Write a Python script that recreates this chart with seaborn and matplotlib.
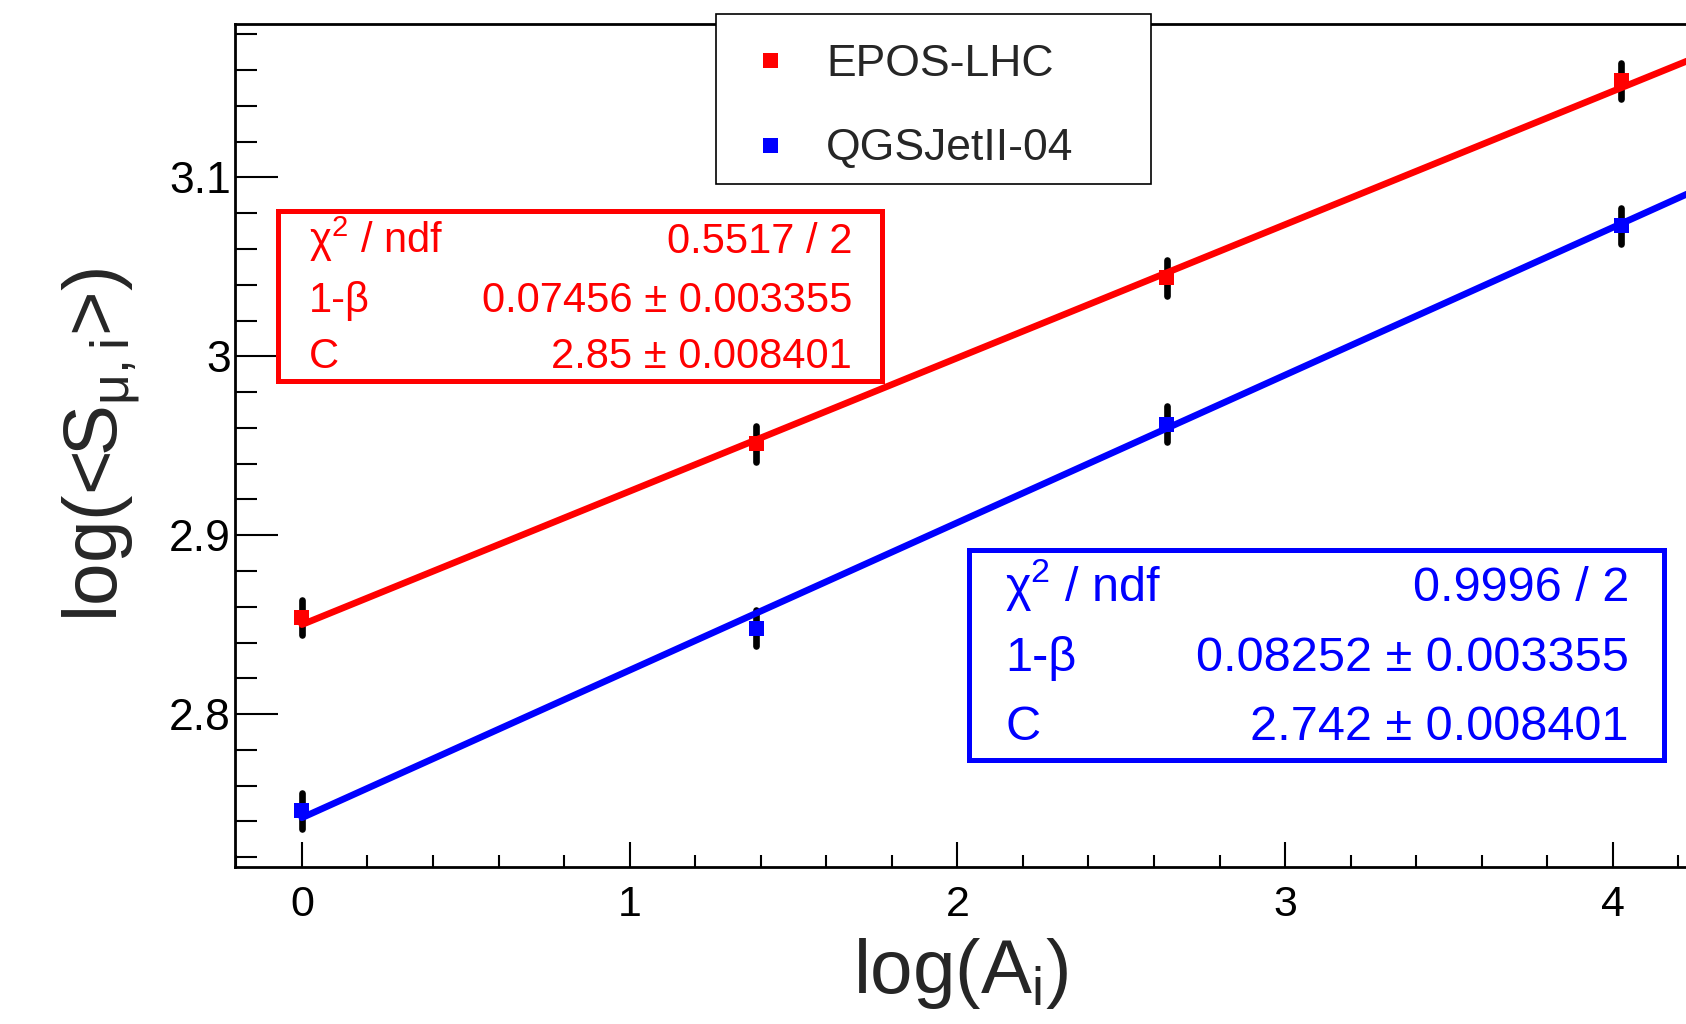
import numpy as np
import pandas as pd
import seaborn as sns
import matplotlib.pyplot as plt
from matplotlib.patches import Rectangle
from matplotlib.lines import Line2D
from matplotlib.ticker import MultipleLocator, FuncFormatter

# data: ln(A) of p, He, N, Fe and log of mean muon signal
log_a = [0.0, 1.386, 2.639, 4.025]
epos_y = [2.854, 2.951, 3.044, 3.154]
qgs_y = [2.746, 2.848, 2.962, 3.073]
y_err = [0.01, 0.01, 0.01, 0.01]
models = ["EPOS-LHC", "QGSJetII-04"]
colors = {"EPOS-LHC": "red", "QGSJetII-04": "blue"}

# fit results shown in the stat boxes
fit_c = [2.85, 2.742]
fit_slope = [0.07456, 0.08252]
fit_range = [0.0, 4.4]
stat_rows = {
    "EPOS-LHC": [("χ$^{\\mathregular{2}}$ / ndf", "0.5517 / 2"),
                 ("1-β", "0.07456 ± 0.003355"),
                 ("C", "2.85 ± 0.008401")],
    "QGSJetII-04": [("χ$^{\\mathregular{2}}$ / ndf", "0.9996 / 2"),
                    ("1-β", "0.08252 ± 0.003355"),
                    ("C", "2.742 ± 0.008401")],
}

df = pd.DataFrame({"logA": log_a * 2, "logS": epos_y + qgs_y,
                   "err": y_err * 2, "model": [models[0]] * 4 + [models[1]] * 4})
fit_df = pd.DataFrame({
    "logA": fit_range * 2,
    "logS": [fit_c[i] + fit_slope[i] * x for i in range(2) for x in fit_range],
    "model": [m for m in models for _ in fit_range],
})

sns.set_theme(style="ticks")
plt.rcParams["font.family"] = ["Liberation Sans", "DejaVu Sans"]
plt.rcParams["mathtext.fontset"] = "custom"
plt.rcParams["mathtext.rm"] = "Liberation Sans"
plt.rcParams["mathtext.it"] = "Liberation Sans:italic"

W, H = 1686, 1024
fig = plt.figure(figsize=(W / 100, H / 100), dpi=100)
fig.patch.set_facecolor("white")
L, R, T, B = 235, 1686, 24, 867
ax = fig.add_axes([L / W, 1 - B / H, (R - L) / W, (B - T) / H])
ax.set_facecolor("white")

# error bars
for m in models:
    sub = df[df.model == m]
    eb = ax.errorbar(sub.logA, sub.logS, yerr=sub.err, fmt="none", ecolor="black",
                     elinewidth=4.8, capsize=0, zorder=2)
    eb.lines[2][0].set_capstyle("round")

sns.scatterplot(data=df, x="logA", y="logS", hue="model", palette=colors, marker="s",
                s=117, linewidth=0, legend=False, zorder=3, ax=ax)
sns.lineplot(data=fit_df, x="logA", y="logS", hue="model", palette=colors, lw=4.8,
             legend=False, zorder=4, ax=ax)

ax.set_xlim(-0.204, 4.223)
ax.set_ylim(2.7145, 3.1858)
ax.xaxis.set_major_locator(MultipleLocator(1))
ax.xaxis.set_minor_locator(MultipleLocator(0.2))
ax.yaxis.set_major_locator(MultipleLocator(0.1))
ax.yaxis.set_minor_locator(MultipleLocator(0.02))
fmt = FuncFormatter(lambda v, p: f"{round(v, 3):g}")
ax.xaxis.set_major_formatter(fmt)
ax.yaxis.set_major_formatter(fmt)
ax.tick_params(which="both", direction="in", top=False, right=False, color="black",
               labelcolor="black")
ax.tick_params(axis="y", which="major", length=31, width=1.5, pad=3, labelsize=32)
ax.tick_params(axis="y", which="minor", length=15.5, width=1.5)
ax.tick_params(axis="x", which="major", length=18, width=1.5, pad=13, labelsize=31)
ax.tick_params(axis="x", which="minor", length=9, width=1.5)
for s in ["left", "bottom", "top"]:
    ax.spines[s].set_linewidth(2)
    ax.spines[s].set_color("black")
ax.spines["right"].set_visible(False)

ax.set_xlabel("log(A$_{\\mathregular{i}}$)", fontsize=55, va="baseline")
ax.xaxis.set_label_coords(0.5, -126 / (B - T))
ax.set_ylabel("log(<S$_{\\mathregular{μ,i}}$>)", fontsize=55, va="baseline")
ax.yaxis.set_label_coords((118 - L) / (R - L), 0.5)


def fx(px):
    return px / W


def fy(py):
    return 1 - py / H


# legend box
fig.add_artist(Rectangle((fx(715.5), fy(183.5)), (1150.5 - 715.5) / W, (183.5 - 13.5) / H,
                         transform=fig.transFigure, fc="white", ec="black", lw=1.2, zorder=1))
handles = [Line2D([], [], marker="s", color=colors[m], ls="none", markersize=10.8, mew=0)
           for m in models]
fig.legend(handles, models, loc="upper left", bbox_to_anchor=(fx(748), fy(44)),
           frameon=False, fontsize=32, handlelength=1.0, handletextpad=0.76,
           labelspacing=0.97, borderpad=0, borderaxespad=0)

# stat boxes
boxes = {
    "EPOS-LHC": dict(box=(278, 210.5, 882, 380.5), left=309, right=852,
                     base=[253, 312, 368], fs=30),
    "QGSJetII-04": dict(box=(969.5, 549.5, 1664.5, 759.5), left=1005, right=1629,
                        base=[601, 671, 740], fs=35),
}
for m in models:
    b = boxes[m]
    x0, y0, x1, y1 = b["box"]
    fig.add_artist(Rectangle((fx(x0), fy(y1)), (x1 - x0) / W, (y1 - y0) / H,
                             transform=fig.transFigure, fc="white", ec=colors[m],
                             lw=3.6, zorder=2))
    for (name, val), yb in zip(stat_rows[m], b["base"]):
        fig.text(fx(b["left"]), fy(yb), name, color=colors[m], fontsize=b["fs"],
                 ha="left", va="baseline", zorder=3)
        fig.text(fx(b["right"]), fy(yb), val, color=colors[m], fontsize=b["fs"],
                 ha="right", va="baseline", zorder=3)

fig.savefig("out.png", dpi=100)
